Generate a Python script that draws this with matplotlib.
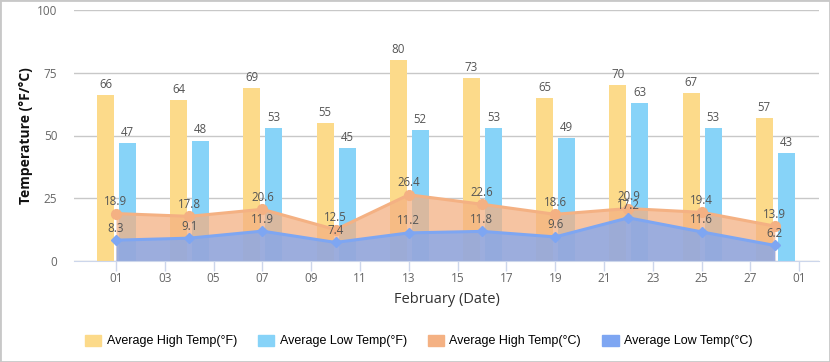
import matplotlib
matplotlib.use("Agg")
import matplotlib.pyplot as plt
from matplotlib.patches import Rectangle, Patch
from matplotlib import font_manager

# ---- data ----
days = [1, 4, 7, 10, 13, 16, 19, 22, 25, 28]
high_f = [66, 64, 69, 55, 80, 73, 65, 70, 67, 57]
low_f = [47, 48, 53, 45, 52, 53, 49, 63, 53, 43]
high_c = [18.9, 17.8, 20.6, 12.5, 26.4, 22.6, 18.6, 20.9, 19.4, 13.9]
low_c = [8.3, 9.1, 11.9, 7.4, 11.2, 11.8, 9.6, 17.2, 11.6, 6.2]
tick_days = [1, 3, 5, 7, 9, 11, 13, 15, 17, 19, 21, 23, 25, 27, 29]
tick_labels = ["01", "03", "05", "07", "09", "11", "13", "15", "17", "19",
               "21", "23", "25", "27", "01"]
series_names = ["Average High Temp(°F)", "Average Low Temp(°F)",
                "Average High Temp(°C)", "Average Low Temp(°C)"]

c_high_f = "#fcda8a"
c_low_f = "#87d3f8"
c_high_c = "#f4b183"
c_low_c = "#7ea6f2"
lab_col = "#555555"

avail = {f.name for f in font_manager.fontManager.ttflist}
main_font = "Open Sans" if "Open Sans" in avail else "DejaVu Sans"
leg_font = "Liberation Sans"
plt.rcParams["font.family"] = [main_font, "DejaVu Sans"]

fig = plt.figure(figsize=(8.3, 3.62), dpi=100)
ax = fig.add_axes([74 / 830, 1 - 261 / 362, (819 - 74) / 830, (261 - 10) / 362])

w = 0.70
xh = [d - 0.43 for d in days]
xl = [d + 0.47 for d in days]
ax.bar(xh, high_f, width=w, color=c_high_f, zorder=2)
ax.bar(xl, low_f, width=w, color=c_low_f, zorder=2)

ax.fill_between(days, high_c, 0, color=c_high_c, alpha=0.75, lw=0, zorder=3)
ax.fill_between(days, low_c, 0, color=c_low_c, alpha=0.75, lw=0, zorder=4)
ax.plot(days, high_c, color=c_high_c, lw=2.2, marker="o", ms=7, zorder=5)
ax.plot(days, low_c, color=c_low_c, lw=2.2, marker="D", ms=5.5, zorder=6)

for xs, vals, off in [(xh, high_f, 3), (xl, low_f, 3), (days, high_c, 4), (days, low_c, 4)]:
    for x, v in zip(xs, vals):
        ax.annotate(f"{v}", (x, v), xytext=(0, off), textcoords="offset points",
                    ha="center", va="bottom", fontsize=8.3, color=lab_col, zorder=7)

ax.set_xlim(-0.72, 29.81)
ax.set_ylim(0, 100)
ax.set_yticks([0, 25, 50, 75, 100])
ax.set_xticks(tick_days)
ax.set_xticklabels(tick_labels)
ax.set_axisbelow(True)
ax.yaxis.grid(True, color="#c8c8c8", lw=1)
for s in ["left", "right", "top"]:
    ax.spines[s].set_visible(False)
ax.spines["bottom"].set_color("#ccd6eb")
ax.spines["bottom"].set_zorder(8)
ax.tick_params(axis="y", length=0, pad=12, labelsize=8.5, labelcolor="#666666")
ax.tick_params(axis="x", length=7, width=1, color="#ccd6eb", pad=0.8,
               labelsize=8.5, labelcolor="#666666")
ax.set_ylabel("Temperature (°F/°C)", fontsize=10, fontweight="bold", color="#111111", labelpad=3)
ax.set_xlabel("February (Date)", fontsize=10.5, color="#333333", labelpad=5)

handles = [Patch(color=c) for c in [c_high_f, c_low_f, c_high_c, c_low_c]]
fig.legend(handles, series_names, loc="center", ncol=4,
           bbox_to_anchor=(418.5 / 830, 1 - 341 / 362), frameon=False,
           handlelength=1.33, handleheight=1.0, handletextpad=0.42,
           columnspacing=1.67, borderpad=0, borderaxespad=0,
           prop={"family": [leg_font, "DejaVu Sans"], "size": 9})

fig.patches.append(Rectangle((0, 0), 1, 1, transform=fig.transFigure, fill=False,
                             edgecolor="#c8c8c8", lw=2))
fig.savefig("out.png", dpi=100)
